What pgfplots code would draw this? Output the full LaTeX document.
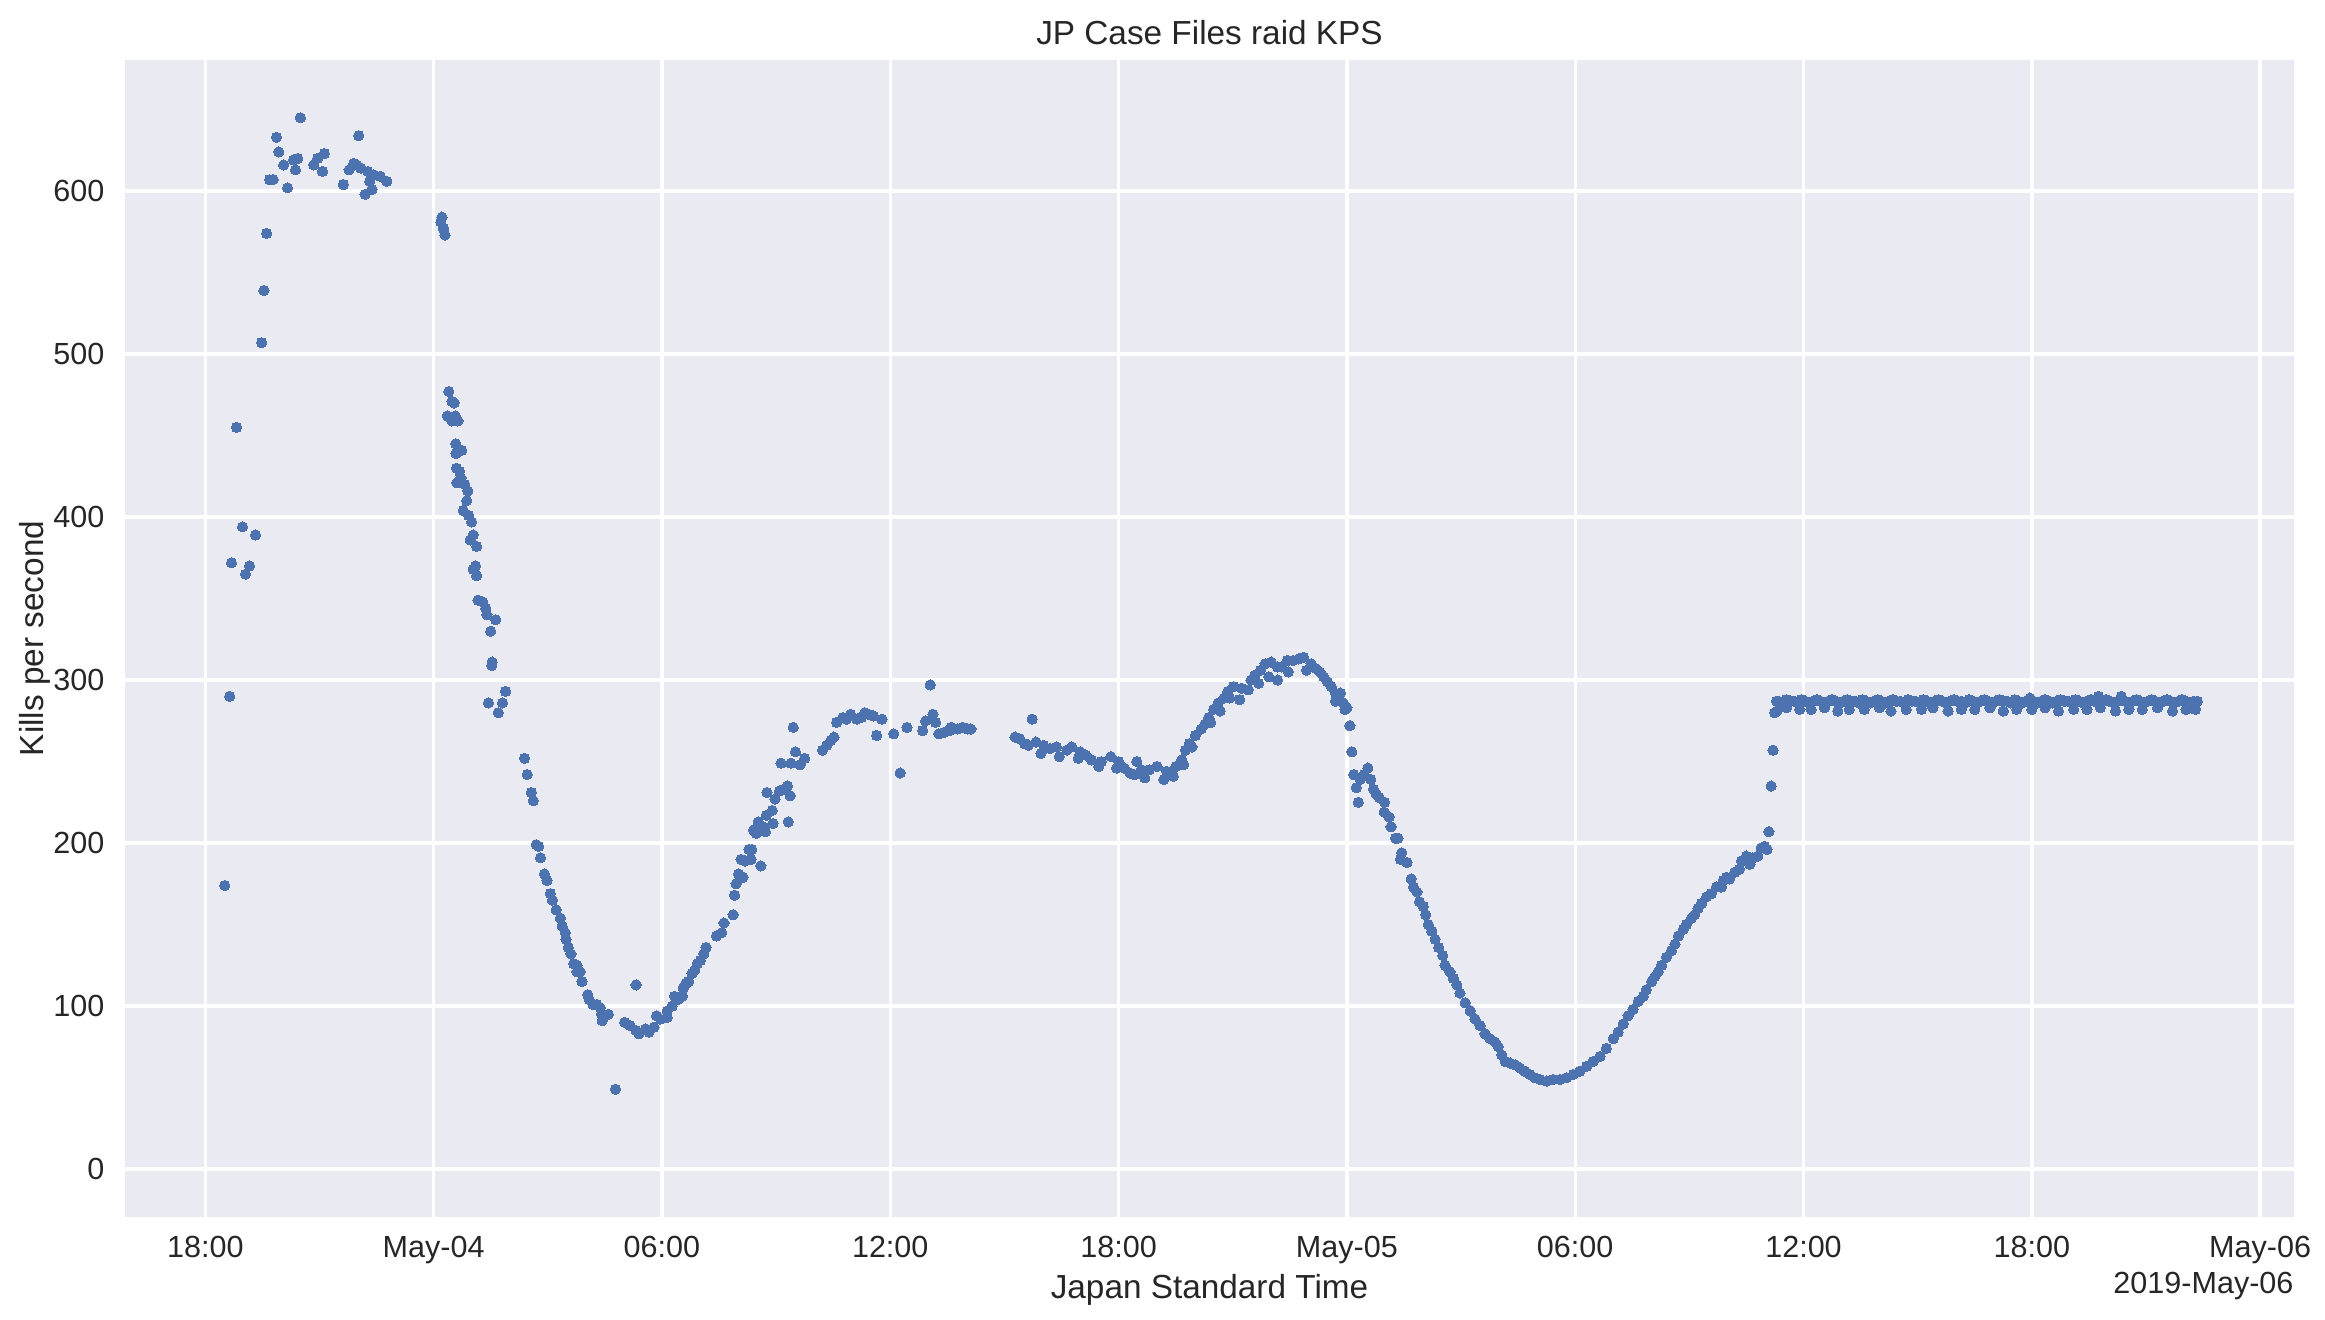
\documentclass[border=0pt]{standalone}
\usepackage{pgfplots}
\pgfplotsset{compat=1.18}
\usepackage{pgfplotstable}
\usepackage{fontspec}
\setmainfont{Liberation Sans}
\definecolor{bgc}{HTML}{EAEAF2}
\definecolor{dotc}{HTML}{4C72B0}
\definecolor{txt}{HTML}{262626}

\pgfplotstableread{
h v
18.51 174
18.64 290
18.69 372
18.82 455
18.98 394
19.06 365
19.16 370
19.32 389
19.48 507
19.54 539
19.61 574
19.69 607
19.78 607
19.87 633
19.93 624
20.06 616
20.16 602
20.32 619
20.37 613
20.43 620
20.50 645
20.85 616
20.95 620
21.08 612
21.13 623
21.63 604
21.78 613
21.90 617
21.98 616
22.03 634
22.09 614
22.20 598
22.27 612
22.32 606
22.38 601
22.42 610
22.60 609
22.77 606
24.19 581
24.22 584
24.26 577
24.30 573
24.36 462
24.40 477
24.48 471
24.48 459
24.54 470
24.57 462
24.58 445
24.59 439
24.60 430
24.61 421
24.64 459
24.68 428
24.72 424
24.74 441
24.78 404
24.82 420
24.87 410
24.90 416
24.92 401
24.96 386
25.00 397
25.04 389
25.04 368
25.10 370
25.13 382
25.13 364
25.17 349
25.29 348
25.37 344
25.40 340
25.44 286
25.50 330
25.53 309
25.54 311
25.63 337
25.70 280
25.81 286
25.89 293
26.39 252
26.46 242
26.57 231
26.62 226
26.70 199
26.76 198
26.81 191
26.91 181
26.98 177
27.07 169
27.12 165
27.22 159
27.33 154
27.38 149
27.46 145
27.48 141
27.54 136
27.61 132
27.68 126
27.77 125
27.77 121
27.85 121
27.90 115
28.05 107
28.09 104
28.19 101
28.29 101
28.38 99
28.41 95
28.43 91
28.59 95
28.78 49
29.02 90
29.16 88
29.32 85
29.32 113
29.40 83
29.57 86
29.66 84
29.79 87
29.86 94
29.96 92
30.14 93
30.14 97
30.27 100
30.33 106
30.42 104
30.54 106
30.56 111
30.63 114
30.70 115
30.79 120
30.86 122
30.93 126
31.01 128
31.10 132
31.16 136
31.43 143
31.57 145
31.63 151
31.87 156
31.91 168
31.95 175
32.01 181
32.08 190
32.13 179
32.19 189
32.29 196
32.34 190
32.36 196
32.41 208
32.48 206
32.53 213
32.60 186
32.66 210
32.72 207
32.74 217
32.76 231
32.90 220
32.92 212
32.97 227
33.09 232
33.13 249
33.20 233
33.30 235
33.32 213
33.37 229
33.39 249
33.45 271
33.51 256
33.63 248
33.75 252
34.22 257
34.33 260
34.44 263
34.52 265
34.59 274
34.75 277
34.85 276
34.96 279
35.12 276
35.24 277
35.33 280
35.43 279
35.56 278
35.64 266
35.78 276
36.09 267
36.26 243
36.44 271
36.85 269
36.93 275
37.05 297
37.12 279
37.19 274
37.28 267
37.42 268
37.56 269
37.60 271
37.77 270
37.91 271
38.03 270
38.12 270
39.28 265
39.40 264
39.53 261
39.63 260
39.73 276
39.83 262
39.96 255
40.03 260
40.19 258
40.37 259
40.44 253
40.64 257
40.77 259
40.94 252
40.99 256
41.14 254
41.29 251
41.48 247
41.55 250
41.80 253
41.95 246
42.00 250
42.15 246
42.30 243
42.42 242
42.48 250
42.60 245
42.69 240
42.81 245
43.01 247
43.19 239
43.26 244
43.44 241
43.51 247
43.66 251
43.71 248
43.76 257
43.86 261
43.93 259
44.02 266
44.17 270
44.27 273
44.37 277
44.42 274
44.50 282
44.62 286
44.67 281
44.77 289
44.87 293
44.92 289
45.02 296
45.18 288
45.23 295
45.41 294
45.48 300
45.58 303
45.68 298
45.73 306
45.85 310
45.95 302
46.01 311
46.18 308
46.18 300
46.28 308
46.44 312
46.46 305
46.59 312
46.74 313
46.86 314
46.94 306
47.06 310
47.19 307
47.29 305
47.39 302
47.49 299
47.59 296
47.70 292
47.70 287
47.83 292
47.90 286
47.95 282
48.00 283
48.08 272
48.13 256
48.18 242
48.25 234
48.30 225
48.35 239
48.45 242
48.55 246
48.63 239
48.70 233
48.77 230
48.85 228
48.99 225
48.98 219
49.11 216
49.16 210
49.28 203
49.34 203
49.44 194
49.41 190
49.58 188
49.69 178
49.75 173
49.84 170
49.91 164
50.01 161
50.07 156
50.14 150
50.23 146
50.32 141
50.41 136
50.52 131
50.58 125
50.71 121
50.80 117
50.89 113
50.97 108
51.11 102
51.24 97
51.37 92
51.50 88
51.63 83
51.76 80
51.89 78
51.98 75
52.07 70
52.16 66
52.29 65
52.42 64
52.55 62
52.68 60
52.81 58
52.94 56
53.07 55
53.25 54
53.42 55
53.60 55
53.77 56
53.95 58
54.12 60
54.30 63
54.47 66
54.65 69
54.82 74
55.00 80
55.13 84
55.26 89
55.39 94
55.52 98
55.66 103
55.79 106
55.87 110
56.01 115
56.09 118
56.18 121
56.27 125
56.40 130
56.53 134
56.62 138
56.71 143
56.84 147
56.92 150
57.06 154
57.14 156
57.23 160
57.32 163
57.45 167
57.58 169
57.71 173
57.84 173
57.89 177
57.97 179
58.06 178
58.19 182
58.32 184
58.37 189
58.50 192
58.59 187
58.67 191
58.80 192
58.89 197
58.98 198
59.04 196
59.09 207
59.15 235
59.20 257
59.24 280
59.29 287
59.30 281
59.35 287
59.45 286
59.55 288
59.55 283
59.65 287
59.75 287
59.85 286
59.90 282
59.95 288
60.05 287
60.15 286
60.20 282
60.25 287
60.35 288
60.45 287
60.55 286
60.55 283
60.65 287
60.75 288
60.85 287
60.90 281
60.95 286
61.05 287
61.15 288
61.20 282
61.25 287
61.35 287
61.45 286
61.55 288
61.60 282
61.65 287
61.75 286
61.85 287
61.95 288
62.00 283
62.05 287
62.15 286
62.25 287
62.30 281
62.35 288
62.45 287
62.55 287
62.65 286
62.70 282
62.75 288
62.85 287
62.95 287
63.05 286
63.10 282
63.15 288
63.25 287
63.35 286
63.40 283
63.45 287
63.55 288
63.65 287
63.75 286
63.80 281
63.85 287
63.95 288
64.05 287
64.15 287
64.15 282
64.25 286
64.35 288
64.45 287
64.50 282
64.55 286
64.65 287
64.75 288
64.85 287
64.90 283
64.95 286
65.05 287
65.15 288
65.25 287
65.25 281
65.35 287
65.45 286
65.55 288
65.60 282
65.65 287
65.75 286
65.85 287
65.95 289
66.00 282
66.05 287
66.15 286
66.25 287
66.35 288
66.35 283
66.45 287
66.55 286
66.65 287
66.70 281
66.75 288
66.85 287
66.95 287
67.05 286
67.10 282
67.15 288
67.25 287
67.35 286
67.45 287
67.45 282
67.55 288
67.65 287
67.75 290
67.80 283
67.85 287
67.95 288
68.05 287
68.15 286
68.20 281
68.25 287
68.35 290
68.45 287
68.55 286
68.55 282
68.65 287
68.75 288
68.85 287
68.90 282
68.95 286
69.05 287
69.15 288
69.25 287
69.30 283
69.35 286
69.45 287
69.55 288
69.65 287
69.70 281
69.75 286
69.85 287
69.95 288
70.05 287
70.05 282
70.15 286
70.25 287
70.30 282
70.35 287
}\kpsdata

\begin{document}
\begin{tikzpicture}
\begin{axis}[
  at={(0,0)}, anchor=south west,
  scale only axis, width=780.84pt, height=416.52pt,
  xmin=15.89, xmax=72.89, ymin=-29.4, ymax=680.4,
  axis background/.style={fill=bgc},
  axis line style={draw=none},
  major tick length=0pt,
  grid=major,
  major grid style={white, line width=1.2pt},
  xtick={18,24,30,36,42,48,54,60,66,72},
  xticklabels={18:00,May-04,06:00,12:00,18:00,May-05,06:00,12:00,18:00,May-06},
  ytick={0,100,200,300,400,500,600},
  /pgf/number format/assume math mode=true,
  ticklabel style={font=\fontsize{11}{13}\selectfont, text=txt},
  xticklabel style={anchor=base, yshift=-14.6pt, inner sep=0pt},
  yticklabel style={anchor=east, xshift=-7.2pt, inner sep=0pt},
  title={JP Case Files raid KPS},
  title style={font=\fontsize{12}{14}\selectfont, text=txt, at={(axis description cs:0.5,1)}, anchor=base, yshift=-0.4pt, inner sep=0pt},
  xlabel={Japan Standard Time},
  xlabel style={font=\fontsize{12}{14}\selectfont, text=txt, at={(axis description cs:0.5,0)}, anchor=base, yshift=-29.5pt, inner sep=0pt},
  ylabel={Kills per second},
  ylabel style={font=\fontsize{12}{14}\selectfont, text=txt, at={(axis description cs:-0.0415,0.5)}, anchor=center, inner sep=0pt},
]
\addplot[only marks, mark=*, color=dotc, mark size=1.85pt, mark options={fill=dotc, draw=dotc, line width=0pt}] table[x=h, y=v] {\kpsdata};
\end{axis}
\node[anchor=base east, font=\fontsize{11}{13}\selectfont, text=txt, inner sep=0pt, yshift=-27.5pt] at (current axis.south east) {2019-May-06};
\pgfresetboundingbox
\useasboundingbox (-45pt,-37.08pt) rectangle (792pt,438.12pt);
\end{tikzpicture}
\end{document}
